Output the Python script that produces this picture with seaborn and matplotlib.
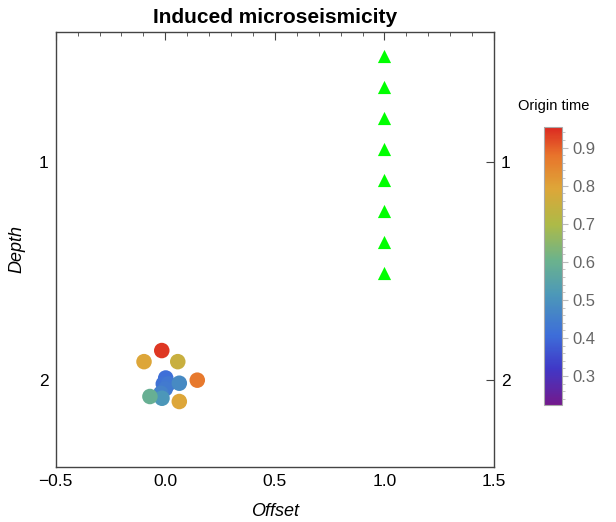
import matplotlib
matplotlib.use('Agg')
import matplotlib.pyplot as plt
import numpy as np
import pandas as pd
import seaborn as sns
from matplotlib.colors import LinearSegmentedColormap, Normalize
from matplotlib.cm import ScalarMappable
from matplotlib.ticker import MultipleLocator

# receivers (green triangles)
receiver_offset = [1.0, 1.0, 1.0, 1.0, 1.0, 1.0, 1.0, 1.0]
receiver_depth = [0.51, 0.653, 0.795, 0.938, 1.08, 1.223, 1.365, 1.508]

# events
event_offset = [0.002, -0.009, 0.014, 0.0, -0.02, 0.064, -0.015, -0.07,
                0.057, 0.064, -0.097, 0.146, -0.016]
event_depth = [1.99, 2.017, 2.017, 2.04, 2.06, 2.014, 2.083, 2.075,
               1.915, 2.098, 1.915, 2.0, 1.864]
event_time = [0.41, 0.42, 0.43, 0.44, 0.46, 0.48, 0.51, 0.59,
              0.75, 0.79, 0.79, 0.87, 0.94]
time_range = (0.224, 0.955)

sns.set_style("white")
plt.rcParams['font.family'] = ['Liberation Sans', 'DejaVu Sans']
plt.rcParams['text.color'] = 'black'
plt.rcParams['axes.labelcolor'] = 'black'

rainbow = LinearSegmentedColormap.from_list('mma_rainbow', [
    (0.00, (0.45, 0.10, 0.55)),
    (0.13, (0.25, 0.22, 0.78)),
    (0.25, (0.24, 0.43, 0.85)),
    (0.40, (0.30, 0.60, 0.72)),
    (0.52, (0.42, 0.70, 0.55)),
    (0.65, (0.68, 0.73, 0.28)),
    (0.78, (0.87, 0.65, 0.22)),
    (0.90, (0.91, 0.45, 0.17)),
    (1.00, (0.86, 0.16, 0.13)),
])

events = pd.DataFrame({'offset': event_offset, 'depth': event_depth,
                       'time': event_time})
receivers = pd.DataFrame({'offset': receiver_offset, 'depth': receiver_depth})

fig = plt.figure(figsize=(6.16, 5.22), dpi=100)
ax = fig.add_axes([0.0904, 0.1048, 0.7116, 0.8345])

sns.scatterplot(data=receivers, x='offset', y='depth', marker='^',
                color='#00ff00', s=90, linewidth=0, ax=ax)
sns.scatterplot(data=events, x='offset', y='depth', hue='time',
                palette=rainbow, hue_norm=Normalize(*time_range),
                s=125, linewidth=0, legend=False, ax=ax)

ax.set_xlim(-0.5, 1.5)
ax.set_ylim(2.4, 0.4)
ax.set_xticks([-0.5, 0.0, 0.5, 1.0, 1.5])
ax.set_xticklabels(['\u22120.5', '0.0', '0.5', '1.0', '1.5'])
ax.xaxis.set_minor_locator(MultipleLocator(0.1))
ax.set_yticks([1, 2])
ax.tick_params(which='both', direction='in', top=True, right=True,
               labelright=True, labelsize=12.5, color='#444444',
               labelcolor='black', pad=5)
ax.tick_params(which='major', length=6, width=0.8)
ax.tick_params(which='minor', length=3, width=0.6)
for sp in ax.spines.values():
    sp.set_color('#444444')
    sp.set_linewidth(1)

ax.set_xlabel('Offset', fontsize=13, style='italic', labelpad=10)
ax.set_ylabel('Depth', fontsize=13, style='italic', labelpad=10)
ax.set_title('Induced microseismicity', fontsize=15, fontweight='bold',
             pad=6, color='black')

cax = fig.add_axes([0.8836, 0.2241, 0.0292, 0.5333])
sm = ScalarMappable(norm=Normalize(*time_range), cmap=rainbow)
cb = fig.colorbar(sm, cax=cax)
cb.set_ticks([0.3, 0.4, 0.5, 0.6, 0.7, 0.8, 0.9])
cb.ax.yaxis.set_minor_locator(MultipleLocator(0.02))
cb.ax.tick_params(which='both', colors='#bbbbbb', labelcolor='#666666',
                  labelsize=12, direction='out')
cb.ax.tick_params(which='major', length=4)
cb.ax.tick_params(which='minor', length=2)
cb.outline.set_edgecolor('#aaaaaa')
cb.ax.set_title('Origin time', fontsize=10.5, pad=12, color='black')

fig.savefig('out.png', dpi=100)
